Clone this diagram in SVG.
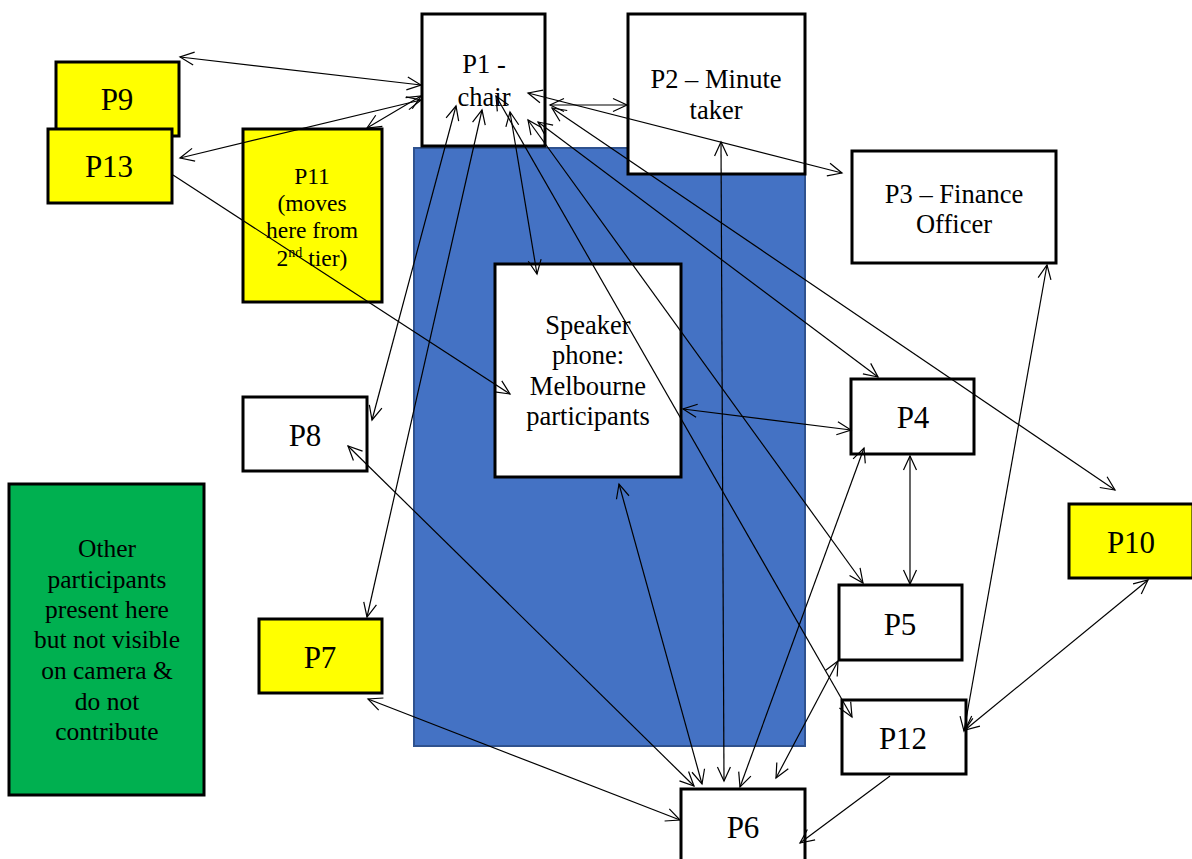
<svg xmlns="http://www.w3.org/2000/svg" width="1192" height="859" viewBox="0 0 1192 859">
<defs>
<marker id="ah" viewBox="-15 -8 17 16" refX="0" refY="0" markerWidth="17" markerHeight="16" markerUnits="userSpaceOnUse" orient="auto-start-reverse">
<path d="M-14,-6.5 L0,0 L-14,6.5" fill="none" stroke="#000" stroke-width="1.2"/>
</marker>
<style>
.box{stroke:#000;stroke-width:3}
.w{fill:#fff}
.y{fill:#ffff00}
.g{fill:#00b050}
text{fill:#000;text-anchor:middle}
.t31{font-size:31px}
.t26{font-size:26.5px}
.t25{font-size:25.5px}
.t23{font-size:23.5px}
.c{fill:none;stroke:#000;stroke-width:1.2}
.d{marker-start:url(#ah);marker-end:url(#ah)}
.s{marker-end:url(#ah)}
</style>
</defs>
<rect x="0" y="0" width="1192" height="859" fill="#fff"/>
<rect id="room" x="414" y="148" width="391" height="598" fill="#4472c4" stroke="#2f528f" stroke-width="2"/>
<g font-family="'Liberation Serif', 'Times New Roman', Times, serif">
<g id="P9"><rect class="box y" x="56" y="62" width="123" height="74"/><text class="t31" x="117" y="110">P9</text></g>
<g id="P13"><rect class="box y" x="48" y="129" width="124" height="74"/><text class="t31" x="109" y="177">P13</text></g>
<g id="P11"><rect class="box y" x="243" y="129" width="139" height="173"/>
<text class="t23" x="312" y="184">P11</text>
<text class="t23" x="312" y="211">(moves</text>
<text class="t23" x="312" y="238">here from</text>
<text class="t23" x="312" y="266">2<tspan font-size="14" dy="-9">nd</tspan><tspan dy="9"> tier)</tspan></text></g>
<g id="P1"><rect class="box w" x="422" y="14" width="123" height="132"/>
<text class="t26" x="484" y="73">P1 -</text><text class="t26" x="484" y="106">chair</text></g>
<g id="P2"><rect class="box w" x="628" y="14" width="177" height="160"/>
<text class="t26" x="716" y="88">P2 – Minute</text><text class="t26" x="716" y="119">taker</text></g>
<g id="P3"><rect class="box w" x="852" y="151" width="204" height="112"/>
<text class="t26" x="954" y="203">P3 – Finance</text><text class="t26" x="954" y="233">Officer</text></g>
<g id="speaker"><rect class="box w" x="495" y="264" width="186" height="213"/>
<text class="t26" x="588" y="334">Speaker</text><text class="t26" x="588" y="364">phone:</text>
<text class="t26" x="588" y="395">Melbourne</text><text class="t26" x="588" y="425">participants</text></g>
<g id="P8"><rect class="box w" x="243" y="397" width="124" height="74"/><text class="t31" x="305" y="446">P8</text></g>
<g id="P7"><rect class="box y" x="259" y="619" width="123" height="74"/><text class="t31" x="320" y="668">P7</text></g>
<g id="others"><rect class="box g" x="9" y="484" width="195" height="311"/>
<text class="t25" x="107" y="557">Other</text>
<text class="t25" x="107" y="588">participants</text>
<text class="t25" x="107" y="618">present here</text>
<text class="t25" x="107" y="648">but not visible</text>
<text class="t25" x="107" y="679">on camera &amp;</text>
<text class="t25" x="107" y="710">do not</text>
<text class="t25" x="107" y="740">contribute</text></g>
<g id="P4"><rect class="box w" x="851" y="379" width="123" height="75"/><text class="t31" x="913" y="428">P4</text></g>
<g id="P5"><rect class="box w" x="839" y="585" width="123" height="75"/><text class="t31" x="900" y="635">P5</text></g>
<g id="P10"><rect class="box y" x="1069" y="504" width="124" height="74"/><text class="t31" x="1131" y="553">P10</text></g>
<g id="P12"><rect class="box w" x="842" y="700" width="124" height="74"/><text class="t31" x="903" y="749">P12</text></g>
<g id="P6"><rect class="box w" x="681" y="789" width="124" height="80"/><text class="t31" x="743" y="838">P6</text></g>
</g>
<g id="connectors">
<line class="c d" x1="180" y1="57" x2="421" y2="85"/>
<line class="c d" x1="180" y1="158" x2="421" y2="100"/>
<line class="c d" x1="367" y1="128" x2="421" y2="96"/>
<line class="c s" x1="173" y1="175" x2="510" y2="394"/>
<line class="c d" x1="550" y1="105" x2="627" y2="105"/>
<line class="c d" x1="528" y1="93" x2="842" y2="173"/>
<line class="c d" x1="721" y1="142" x2="724" y2="781"/>
<line class="c d" x1="456" y1="106" x2="372" y2="420"/>
<line class="c d" x1="482" y1="110" x2="367" y2="617"/>
<line class="c d" x1="510" y1="112" x2="537" y2="274"/>
<line class="c d" x1="496" y1="96" x2="852" y2="717"/>
<line class="c d" x1="528" y1="120" x2="863" y2="583"/>
<line class="c d" x1="538" y1="122" x2="878" y2="377"/>
<line class="c d" x1="552" y1="108" x2="1115" y2="490"/>
<line class="c d" x1="683" y1="409" x2="851" y2="430"/>
<line class="c d" x1="910" y1="456" x2="910" y2="584"/>
<line class="c d" x1="864" y1="448" x2="740" y2="787"/>
<line class="c d" x1="838" y1="661" x2="776" y2="778"/>
<line class="c d" x1="348" y1="446" x2="694" y2="786"/>
<line class="c d" x1="619" y1="484" x2="702" y2="784"/>
<line class="c d" x1="368" y1="699" x2="680" y2="820"/>
<line class="c s" x1="890" y1="776" x2="800" y2="843"/>
<line class="c d" x1="1047" y1="265" x2="964" y2="731"/>
<line class="c d" x1="1148" y1="580" x2="965" y2="730"/>
</g>
</svg>
